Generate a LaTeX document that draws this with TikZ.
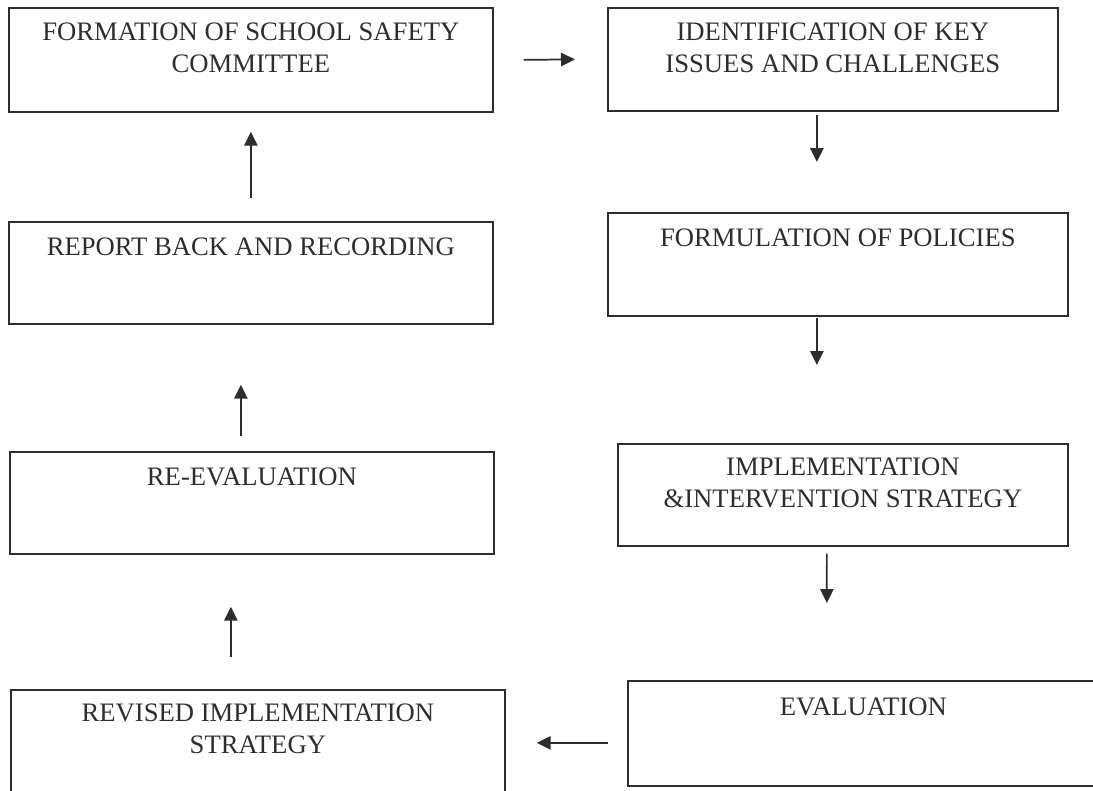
\documentclass[tikz,border=0pt]{standalone}
\usepackage{fontspec}
\setmainfont{Liberation Serif}
\usetikzlibrary{arrows.meta, positioning}
\definecolor{ink}{RGB}{45,45,45}

\begin{document}
\begin{tikzpicture}[
      x=0.75pt, y=-0.75pt,
      frame/.style={draw=ink, line width=1.3pt, anchor=north west, inner sep=0pt},
      txt/.style={align=center, inner sep=0pt, text=ink, font=\fontsize{20}{24}\selectfont},
      arr/.style={-{Triangle[length=10.5pt, width=10pt]}, draw=ink, line width=1.3pt}]
    \useasboundingbox (0,0) rectangle (1093,790);
    \clip (0,0) rectangle (1093,790);
    % left column
    \node[frame, minimum width=363pt, minimum height=78pt] (form) at (8,7) {};
    \node[frame, minimum width=363pt, minimum height=76.5pt] (report) at (8,221) {};
    \node[frame, minimum width=363pt, minimum height=76.5pt] (reeval) at (9,451) {};
    \node[frame, minimum width=370.5pt, minimum height=83.25pt] (revise) at (10,689) {};
    % right column
    \node[frame, minimum width=337.5pt, minimum height=77.25pt] (ident) at (607,7) {};
    \node[frame, minimum width=345pt, minimum height=77.25pt] (policy) at (607,212) {};
    \node[frame, minimum width=337.5pt, minimum height=76.5pt] (impl) at (617,443) {};
    \node[frame, minimum width=353.25pt, minimum height=78.75pt] (eval) at (627,680) {};
    % texts
    \node[txt, below=12pt of form.north] (formtxt) {FORMATION OF SCHOOL SAFETY\\COMMITTEE};
    \node[txt, below=12.75pt of report.north] (reporttxt) {REPORT BACK AND RECORDING};
    \node[txt, below=12.75pt of reeval.north] (reevaltxt) {RE-EVALUATION};
    \node[txt, below=11pt of revise.north] (revisetxt) {REVISED IMPLEMENTATION\\STRATEGY};
    \node[txt, below=11.5pt of ident.north] (identtxt) {IDENTIFICATION OF KEY\\ISSUES AND CHALLENGES};
    \node[txt, below=12.75pt of policy.north] (policytxt) {FORMULATION OF POLICIES};
    \node[txt, below=11pt of impl.north] (impltxt) {IMPLEMENTATION\\\&INTERVENTION STRATEGY};
    \node[txt, below=13pt of eval.north] (evaltxt) {EVALUATION};
    % flow
    \draw[arr] ([xshift=22.5pt]form.east) -- ([xshift=-24pt]ident.west);
    \draw[arr] ([xshift=-12pt, yshift=-2.25pt]ident.south) -- ([xshift=-15.75pt, yshift=37.5pt]policy.north);
    \draw[arr] ([xshift=-15.75pt, yshift=-0.75pt]policy.south) -- ([xshift=-19.5pt, yshift=58.5pt]impl.north);
    \draw[arr] ([xshift=-12pt, yshift=-5.25pt]impl.south) -- ([xshift=-27.4pt, yshift=57.75pt]eval.north);
    \draw[arr] ([xshift=-14.25pt, yshift=-7.1pt]eval.west) -- ([xshift=23.25pt, yshift=1.9pt]revise.east);
    \draw[arr] ([xshift=-20.25pt, yshift=24pt]revise.north) -- ([xshift=-15.75pt, yshift=-39pt]reeval.south);
    \draw[arr] ([xshift=-8.25pt, yshift=11.25pt]reeval.north) -- ([xshift=-7.5pt, yshift=-45pt]report.south);
    \draw[arr] ([yshift=17.25pt]report.north) -- ([yshift=-14.25pt]form.south);
  \end{tikzpicture}
\end{document}
